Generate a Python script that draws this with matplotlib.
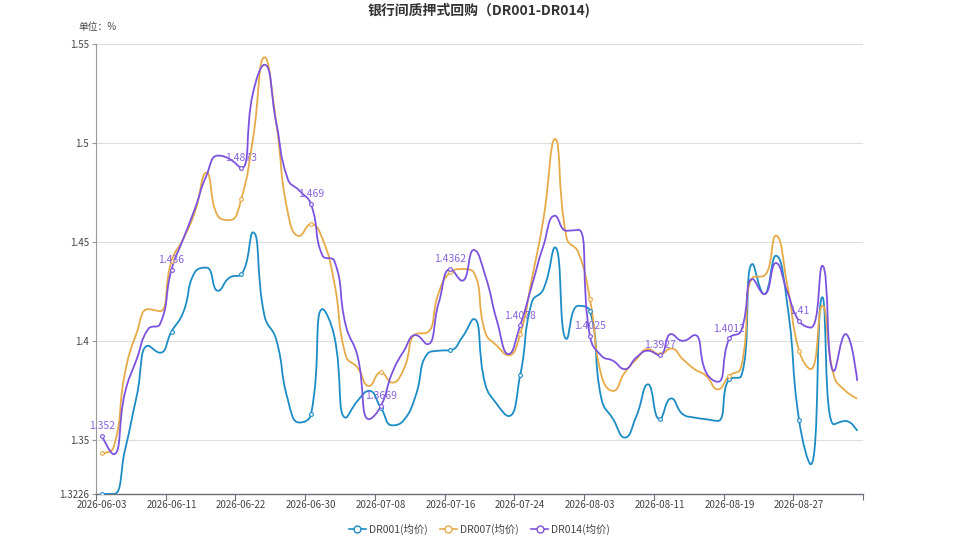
import numpy as np
import matplotlib
matplotlib.use("Agg")
import matplotlib.pyplot as plt
from matplotlib.path import Path
from matplotlib.patches import PathPatch
from matplotlib.lines import Line2D

plt.rcParams['font.family'] = ['Noto Sans CJK SC', 'DejaVu Sans']

dates = ["2026-06-03", "2026-06-04", "2026-06-05", "2026-06-08", "2026-06-09", "2026-06-10",
         "2026-06-11", "2026-06-12", "2026-06-15", "2026-06-16", "2026-06-17", "2026-06-18",
         "2026-06-22", "2026-06-23", "2026-06-24", "2026-06-25", "2026-06-26", "2026-06-29",
         "2026-06-30", "2026-07-01", "2026-07-02", "2026-07-03", "2026-07-06", "2026-07-07",
         "2026-07-08", "2026-07-09", "2026-07-10", "2026-07-13", "2026-07-14", "2026-07-15",
         "2026-07-16", "2026-07-17", "2026-07-20", "2026-07-21", "2026-07-22", "2026-07-23",
         "2026-07-24", "2026-07-27", "2026-07-28", "2026-07-29", "2026-07-30", "2026-07-31",
         "2026-08-03", "2026-08-04", "2026-08-05", "2026-08-06", "2026-08-07", "2026-08-10",
         "2026-08-11", "2026-08-12", "2026-08-13", "2026-08-14", "2026-08-17", "2026-08-18",
         "2026-08-19", "2026-08-20", "2026-08-21", "2026-08-24", "2026-08-25", "2026-08-26",
         "2026-08-27", "2026-08-28", "2026-08-31", "2026-09-01", "2026-09-02", "2026-09-03"]

dr001 = [1.3226, 1.3226, 1.345, 1.372, 1.3975, 1.394, 1.4047, 1.4143, 1.4346, 1.437, 1.4253,
         1.432, 1.4336, 1.4548, 1.4126, 1.4008, 1.3705, 1.3587, 1.3629, 1.416, 1.4025, 1.3612,
         1.3696, 1.3747, 1.3663, 1.3573, 1.360, 1.3722, 1.3933, 1.395, 1.3953, 1.4017, 1.411,
         1.378, 1.368, 1.362, 1.3826, 1.4194, 1.4261, 1.4472, 1.401, 1.4177, 1.4152, 1.3705,
         1.3604, 1.3511, 1.362, 1.378, 1.3604, 1.3709, 1.3629, 1.3612, 1.3604, 1.3595, 1.3806,
         1.382, 1.4388, 1.4236, 1.443, 1.4177, 1.3599, 1.3376, 1.422, 1.3578, 1.3595, 1.3545]

dr007 = [1.3432, 1.346, 1.384, 1.404, 1.416, 1.415, 1.4405, 1.4514, 1.465, 1.485, 1.463,
         1.461, 1.4717, 1.502, 1.5433, 1.5105, 1.465, 1.453, 1.459, 1.4514, 1.4295, 1.3924,
         1.3865, 1.3772, 1.384, 1.3789, 1.386, 1.4034, 1.4042, 1.4245, 1.4346, 1.4363, 1.4346,
         1.4042, 1.3975, 1.3927, 1.4034, 1.4312, 1.4616, 1.502, 1.452, 1.4447, 1.4211, 1.3823,
         1.3747, 1.384, 1.3907, 1.3958, 1.3933, 1.3961, 1.3907, 1.3857, 1.3823, 1.3755, 1.3823,
         1.3865, 1.432, 1.4329, 1.4531, 1.4278, 1.395, 1.3857, 1.4177, 1.3823, 1.3747, 1.3708]

dr014 = [1.352, 1.3427, 1.374, 1.3907, 1.406, 1.4084, 1.436, 1.4514, 1.4666, 1.4835, 1.4936,
         1.4919, 1.4873, 1.525, 1.5395, 1.5105, 1.4818, 1.4759, 1.469, 1.443, 1.4405, 1.4076,
         1.3924, 1.3604, 1.3669, 1.384, 1.395, 1.4029, 1.3983, 1.4194, 1.4362, 1.4304, 1.4459,
         1.4329, 1.4101, 1.3933, 1.4078, 1.4278, 1.4481, 1.4632, 1.4556, 1.4561, 1.4025, 1.3924,
         1.3899, 1.3857, 1.3916, 1.395, 1.3927, 1.4034, 1.4, 1.4029, 1.384, 1.3793, 1.4012,
         1.405, 1.4312, 1.4236, 1.4393, 1.4245, 1.41, 1.4067, 1.4379, 1.3848, 1.4034, 1.3798]

names = ["DR001(均价)", "DR007(均价)", "DR014(均价)"]
colors = ["#1c8cc4", "#e6ab48", "#7d53de"]
label_color = "#8a64dc"

y_min, y_max = 1.3226, 1.55
y_ticks = [1.3226, 1.35, 1.4, 1.45, 1.5, 1.55]
step = 6


def smooth_path(xs, ys, sx, sy, smooth=0.5):
    # echarts-like smoothing, computed in pixel space
    px = np.asarray(xs, float) * sx
    py = np.asarray(ys, float) * sy
    n = len(px)
    verts = [(px[0], py[0])]
    codes = [Path.MOVETO]
    cp0x, cp0y = px[0], py[0]
    for i in range(1, n):
        x, y = px[i], py[i]
        if i == n - 1:
            cp1x, cp1y = x, y
            nx0, ny0 = x, y
        else:
            prx, pry = px[i - 1], py[i - 1]
            nxx, nxy = px[i + 1], py[i + 1]
            vx, vy = nxx - prx, nxy - pry
            lp = max(np.hypot(x - prx, y - pry), 1e-9)
            ln = max(np.hypot(nxx - x, nxy - y), 1e-9)
            r = ln / (ln + lp)
            nx0 = x + vx * smooth * r
            ny0 = y + vy * smooth * r
            nx0 = min(nx0, max(nxx, x)); ny0 = min(ny0, max(nxy, y))
            nx0 = max(nx0, min(nxx, x)); ny0 = max(ny0, min(nxy, y))
            vx, vy = nx0 - x, ny0 - y
            cp1x = x - vx * lp / ln
            cp1y = y - vy * lp / ln
            cp1x = min(cp1x, max(prx, x)); cp1y = min(cp1y, max(pry, y))
            cp1x = max(cp1x, min(prx, x)); cp1y = max(cp1y, min(pry, y))
            vx, vy = x - cp1x, y - cp1y
            nx0 = x + vx * ln / lp
            ny0 = y + vy * ln / lp
        verts += [(cp0x, cp0y), (cp1x, cp1y), (x, y)]
        codes += [Path.CURVE4] * 3
        cp0x, cp0y = nx0, ny0
    verts = np.array(verts)
    verts[:, 0] /= sx
    verts[:, 1] /= sy
    return Path(verts, codes)


fig = plt.figure(figsize=(9.59, 5.39), dpi=100)
ax = fig.add_axes([96 / 959, 1 - 494 / 539, 767 / 959, 450 / 539])

n = len(dates)
x = np.arange(n)
ax.set_xlim(-0.5, n - 0.5)
ax.set_ylim(y_min, y_max)

ax_w = 767.0
ax_h = 450.0
sx = ax_w / n
sy = ax_h / (y_max - y_min)

for vals, c in zip([dr001, dr007, dr014], colors):
    p = smooth_path(x, vals, sx, sy)
    ax.add_patch(PathPatch(p, fill=False, edgecolor=c, lw=1.3, zorder=3))
    ax.plot(x, vals, ls="none", marker="o", ms=2.7, mfc="white", mec=c, mew=0.8,
            markevery=step, zorder=4)

for i in range(0, n, step):
    ax.annotate(f"{dr014[i]:g}", (i, dr014[i]), xytext=(0, 3.5), textcoords="offset points",
                ha="center", va="bottom", color=label_color, fontsize=7.5, zorder=5)

ax.set_yticks(y_ticks)
ax.set_yticklabels([f"{v:g}" for v in y_ticks])
ax.set_xticks(x[::step])
ax.set_xticklabels(dates[::step])
ax.set_xticks(np.arange(-0.5, n, step), minor=True)
ax.tick_params(axis="x", which="major", length=0, pad=4, labelsize=7, labelcolor="#444444")
ax.tick_params(axis="x", which="minor", length=4, color="#6e7079", width=0.8)
ax.tick_params(axis="y", length=3, color="#999999", width=0.8, labelsize=7,
               labelcolor="#444444", pad=2)

ax.yaxis.grid(True, color="#dddddd", lw=0.8, zorder=0)
ax.set_axisbelow(True)
for s in ["top", "right"]:
    ax.spines[s].set_visible(False)
ax.spines["left"].set_color("#999999")
ax.spines["left"].set_linewidth(0.8)
ax.spines["bottom"].set_color("#6e7079")
ax.spines["bottom"].set_linewidth(1.0)

fig.text(0.5, 1 - 10 / 539, "银行间质押式回购（DR001-DR014)", ha="center", va="center",
         fontsize=10, fontweight="bold", color="#333333")
fig.text(78 / 959, 1 - 27 / 539, "单位：%", ha="left", va="center", fontsize=7, color="#444444")

handles = [Line2D([0], [0], color=c, lw=1.2, marker="o", ms=5, mfc="white", mec=c, mew=1.0)
           for c in colors]
fig.legend(handles, names, loc="center", bbox_to_anchor=(0.5, 1 - 529 / 539), ncol=3,
           frameon=False, fontsize=7.5, handlelength=1.6, handletextpad=0.3, columnspacing=1.2,
           labelcolor="#444444")

fig.savefig("out.png", dpi=100)
